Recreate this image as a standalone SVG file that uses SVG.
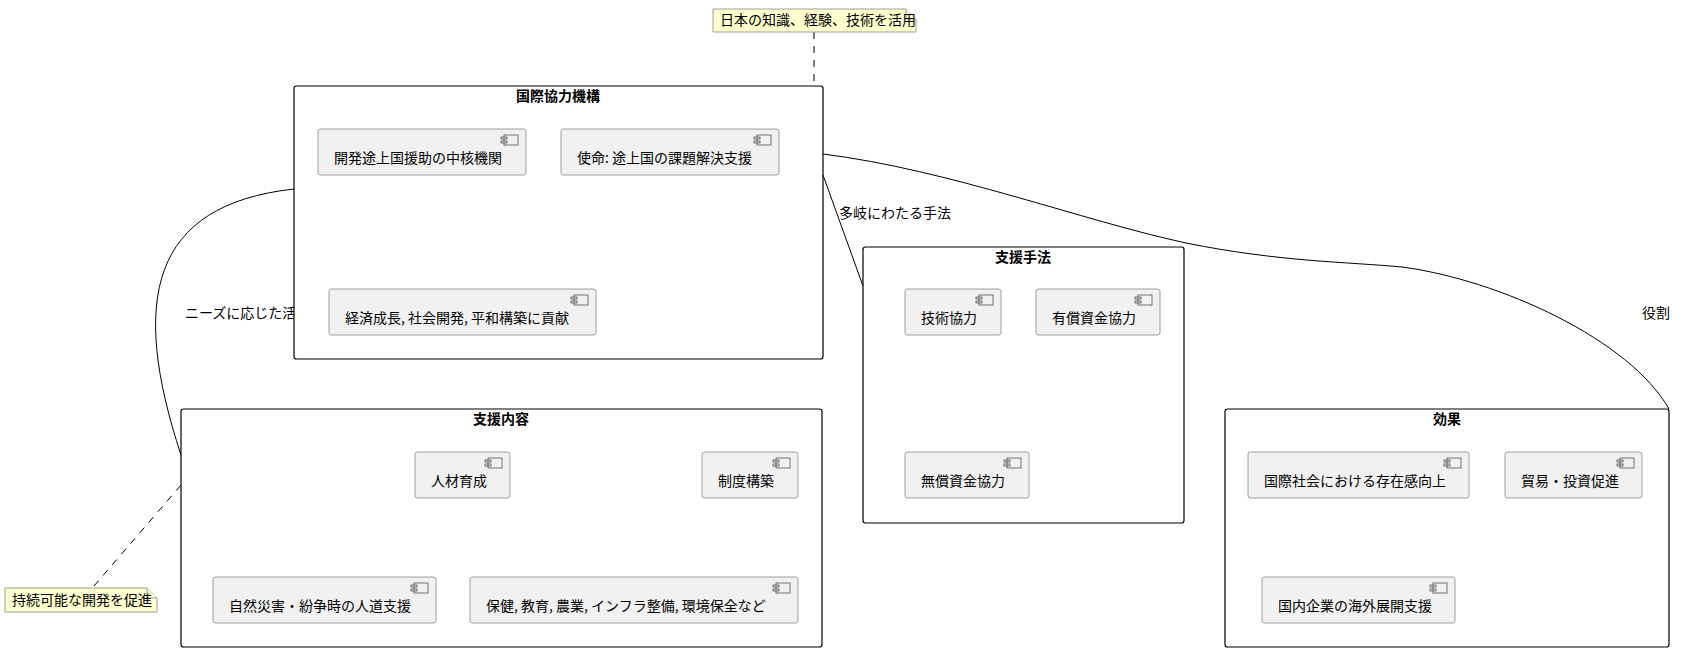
<svg xmlns="http://www.w3.org/2000/svg" width="1691" height="652" viewBox="0 0 1691 652">
<style>
text{font-family:"Noto Sans CJK JP","Noto Sans",sans-serif;font-size:14px;fill:#000}
.t{font-weight:bold;text-anchor:middle}
.pkg{fill:#fff;stroke:#000;stroke-width:1.2}
.c{fill:#f1f1f1;stroke:#888;stroke-width:0.8}
.ic{fill:none;stroke:#555;stroke-width:0.8}
.note{fill:#fefece;stroke:#888;stroke-width:0.8}
.e{fill:none;stroke:#000;stroke-width:1}
.d{fill:none;stroke:#000;stroke-width:1;stroke-dasharray:7,7}
</style>
<defs>
<g id="icon"><rect class="ic" x="-14" y="0" width="14" height="10"/><rect class="ic" x="-17" y="2" width="6" height="2"/><rect class="ic" x="-17" y="6" width="6" height="2"/></g>
</defs>
<g id="connectors">
<path class="e" d="M294,189 C150,205 130,300 181,455"/>
<text x="185" y="318">ニーズに応じた活動</text>
<path class="e" d="M823,175 L863,286"/>
<text x="839" y="218">多岐にわたる手法</text>
<path class="e" d="M823,154 C950,170 1080,220 1186,243 C1280,262 1350,262 1402,267 C1500,280 1630,340 1669,409"/>
<text x="1642" y="318">役割</text>
<path class="d" d="M814,32 L814,86"/>
<path class="d" d="M94,586 L181,485"/>
</g>
<g id="note1"><path class="note" d="M713,9 H906 L916,19 V32 H713 Z"/><path class="note" d="M906,9 V19 H916"/><text x="720" y="25">日本の知識、経験、技術を活用</text></g>
<g id="note2"><path class="note" d="M5,588 H147 L157,598 V612 H5 Z"/><path class="note" d="M147,588 V598 H157"/><text x="12" y="605">持続可能な開発を促進</text></g>
<g id="jica"><rect class="pkg" x="294" y="86" width="529" height="273" rx="2.5"/><text class="t" x="558" y="101">国際協力機構</text></g>
<g id="n1"><rect class="c" x="318" y="129" width="208" height="46" rx="2.5"/><use href="#icon" x="518" y="135"/><text x="334" y="163">開発途上国援助の中核機関</text></g>
<g id="n2"><rect class="c" x="561" y="129" width="218" height="46" rx="2.5"/><use href="#icon" x="771" y="135"/><text x="577" y="163">使命: 途上国の課題解決支援</text></g>
<g id="n3"><rect class="c" x="329" y="289" width="267" height="46" rx="2.5"/><use href="#icon" x="588" y="295"/><text x="345" y="323">経済成長, 社会開発, 平和構築に貢献</text></g>
<g id="method"><rect class="pkg" x="863" y="247" width="321" height="276" rx="2.5"/><text class="t" x="1023" y="262">支援手法</text></g>
<g id="m1"><rect class="c" x="905" y="289" width="96" height="46" rx="2.5"/><use href="#icon" x="993" y="295"/><text x="921" y="323">技術協力</text></g>
<g id="m2"><rect class="c" x="1036" y="289" width="124" height="46" rx="2.5"/><use href="#icon" x="1152" y="295"/><text x="1052" y="323">有償資金協力</text></g>
<g id="m3"><rect class="c" x="905" y="452" width="124" height="46" rx="2.5"/><use href="#icon" x="1021" y="458"/><text x="921" y="486">無償資金協力</text></g>
<g id="content"><rect class="pkg" x="181" y="409" width="641" height="238" rx="2.5"/><text class="t" x="501" y="424">支援内容</text></g>
<g id="s1"><rect class="c" x="415" y="452" width="95" height="46" rx="2.5"/><use href="#icon" x="502" y="458"/><text x="431" y="486">人材育成</text></g>
<g id="s2"><rect class="c" x="702" y="452" width="96" height="46" rx="2.5"/><use href="#icon" x="790" y="458"/><text x="718" y="486">制度構築</text></g>
<g id="s3"><rect class="c" x="213" y="577" width="223" height="46" rx="2.5"/><use href="#icon" x="428" y="583"/><text x="229" y="611">自然災害・紛争時の人道支援</text></g>
<g id="s4"><rect class="c" x="470" y="577" width="328" height="46" rx="2.5"/><use href="#icon" x="790" y="583"/><text x="486" y="611">保健, 教育, 農業, インフラ整備, 環境保全など</text></g>
<g id="effect"><rect class="pkg" x="1225" y="409" width="444" height="238" rx="2.5"/><text class="t" x="1447" y="424">効果</text></g>
<g id="f1"><rect class="c" x="1248" y="452" width="221" height="46" rx="2.5"/><use href="#icon" x="1461" y="458"/><text x="1264" y="486">国際社会における存在感向上</text></g>
<g id="f2"><rect class="c" x="1505" y="452" width="137" height="46" rx="2.5"/><use href="#icon" x="1634" y="458"/><text x="1521" y="486">貿易・投資促進</text></g>
<g id="f3"><rect class="c" x="1262" y="577" width="193" height="46" rx="2.5"/><use href="#icon" x="1447" y="583"/><text x="1278" y="611">国内企業の海外展開支援</text></g>
</svg>
